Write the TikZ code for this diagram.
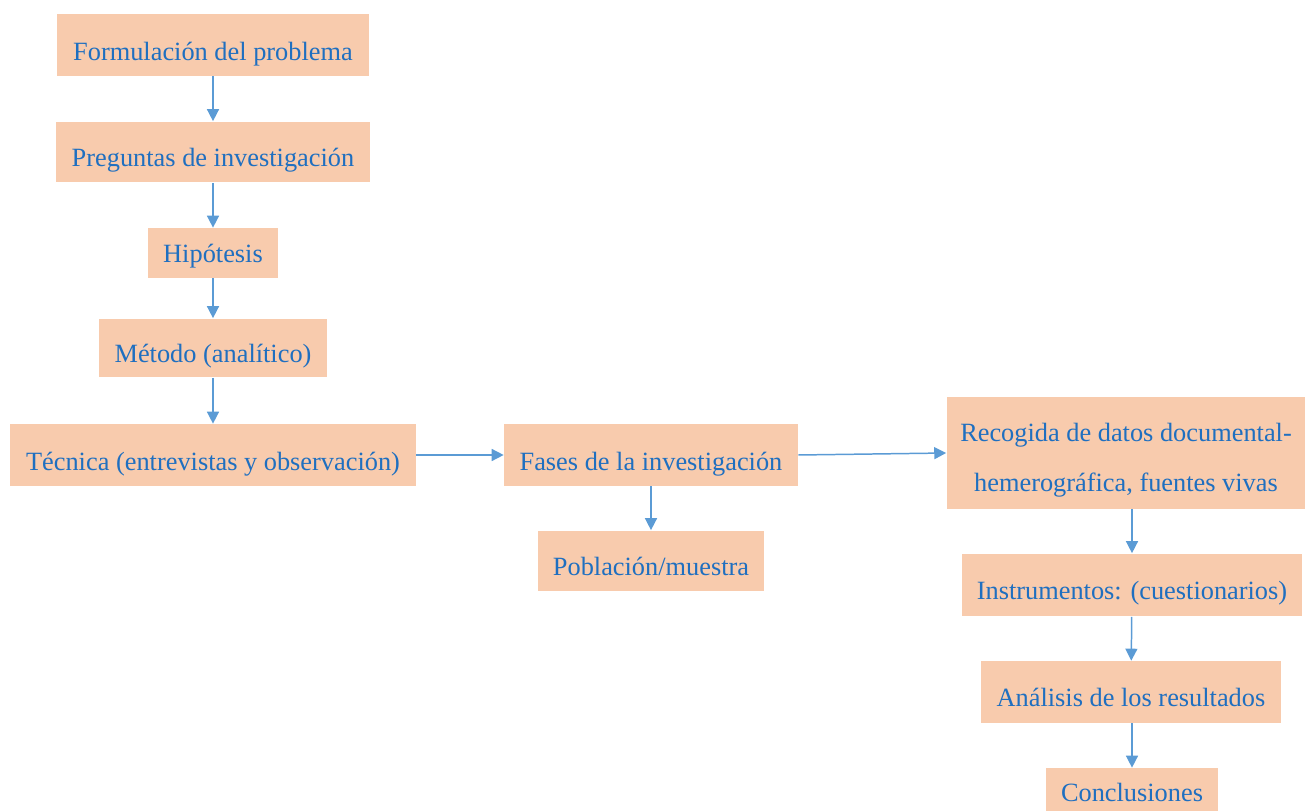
\documentclass[tikz,border=0pt]{standalone}
\usepackage{fontspec}
\setmainfont{Liberation Serif}
\usetikzlibrary{positioning,arrows.meta}
\definecolor{cajafondo}{HTML}{F8CBAD}
\definecolor{cajatexto}{HTML}{1F6FC0}
\definecolor{flecha}{HTML}{5B9BD5}

\begin{document}
\begin{tikzpicture}[
            x=0.02cm,y=-0.02cm,
            caja/.style={
              fill=cajafondo,
              text=cajatexto,
              inner sep=0pt,
              align=center,
              font=\fontsize{15}{18}\selectfont
            },
            paso/.style={
              caja,
              text height=#1,
              text depth=0pt
            },
            paso/.default=18pt,
            flujo/.style={
              draw=flecha,
              line width=0.85pt,
              -{Triangle[length=6.8pt,width=6.8pt]}
            }
            ]
            \useasboundingbox (0,0) rectangle (1306,811);
            
            \node[paso,minimum width=6.24cm,minimum height=1.24cm] at (213,45)
              (formul) {Formulación del problema};
            \node[paso=16.4pt,minimum width=6.28cm,minimum height=1.22cm] at (213,152)
              (pregun) {Preguntas de investigación};
            \node[paso=11.3pt,minimum width=2.6cm,minimum height=1.0cm] at (213,253)
              (hipot) {Hipótesis};
            \node[paso=17pt,minimum width=4.56cm,minimum height=1.18cm] at (213,348)
              (metodo) {Método (analítico)};
            \node[paso,minimum width=8.12cm,minimum height=1.24cm] at (213,455)
              (tecnica) {Técnica (entrevistas y observación)};
            
            \node[paso,minimum width=5.88cm,minimum height=1.24cm] at (651,455)
              (fases) {Fases de la investigación};
            \node[paso=16.4pt,minimum width=4.54cm,minimum height=1.22cm] at (651,561)
              (poblac) {Población/muestra};
            
            \node[caja,minimum width=7.18cm,minimum height=2.24cm,
              font=\fontsize{15}{28.4}\selectfont] at (1126,453)
              (recog) {\rule{0pt}{18.5pt}Recogida de datos documental-\\hemerográfica, fuentes vivas};
            \node[paso=16.4pt,minimum width=6.8cm,minimum height=1.26cm] at (1132,585)
              (instrum) {Instrumentos: (cuestionarios)};
            \node[paso=17pt,minimum width=6.02cm,minimum height=1.24cm] at (1131,692)
              (analis) {Análisis de los resultados};
            \node[paso=3.4pt,minimum width=3.44cm,minimum height=1.24cm] at (1132,799)
              (concl) {Conclusiones};
            
            
            \draw[flujo] (formul) -- (pregun);
            \draw[flujo] (pregun) -- (hipot);
            \draw[flujo] (hipot) -- (metodo);
            \draw[flujo] (metodo) -- (tecnica);
            \draw[flujo] (tecnica) -- (fases);
            \draw[flujo] (fases) -- (poblac);
            \draw[flujo] (fases.east) -- (recog.west);
            \draw[flujo] (recog.south -| instrum) -- (instrum);
            \draw[flujo] (instrum) -- (analis);
            \draw[flujo] (analis.south -| concl) -- (concl);
            \end{tikzpicture}
\end{document}
